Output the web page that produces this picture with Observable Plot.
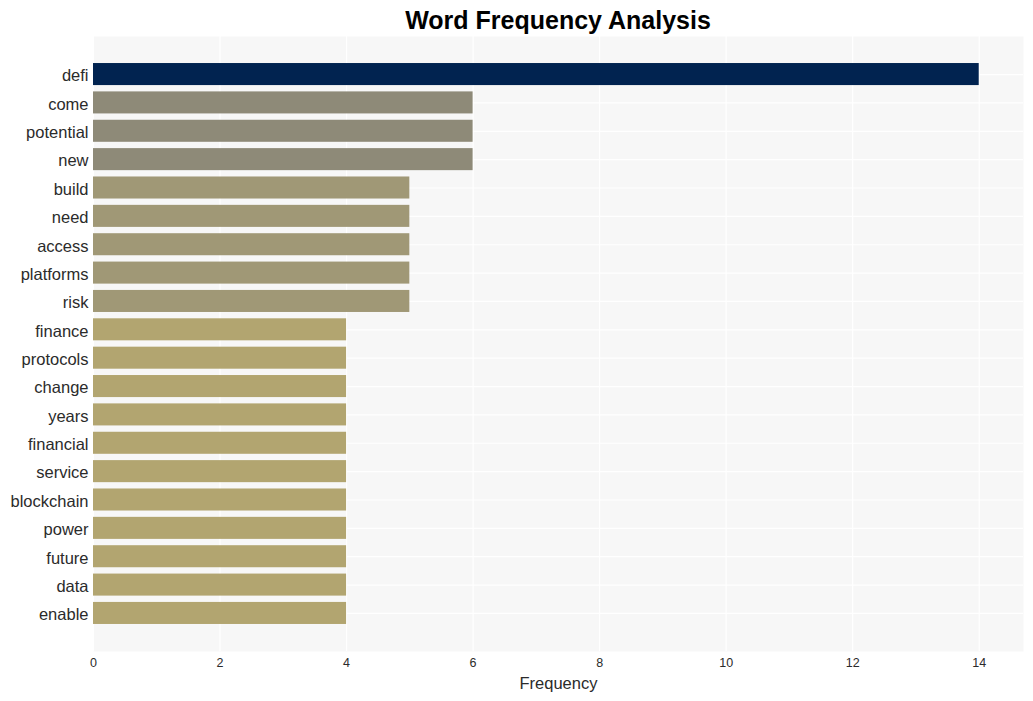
<!DOCTYPE html>
<html>
<head>
<meta charset="utf-8">
<script src="https://cdn.jsdelivr.net/npm/d3@7"></script>
<script src="https://cdn.jsdelivr.net/npm/@observablehq/plot@0.6"></script>
<style>
  body { margin: 0; background: #ffffff; font-family: "Liberation Sans", Arial, sans-serif; }
  #title { height: 36px; line-height: 40px; padding-left: 93px; padding-right: 10px; text-align: center; font-weight: bold; font-size: 25px; color: #000; overflow: visible; white-space: nowrap; }
</style>
</head>
<body>
<div id="title">Word Frequency Analysis</div>
<div id="chart"></div>
<script>
const words = ["defi","come","potential","new","build","need","access","platforms","risk","finance","protocols","change","years","financial","service","blockchain","power","future","data","enable"];
const counts = [14,6,6,6,5,5,5,5,5,4,4,4,4,4,4,4,4,4,4,4];
const xTicks = [0,2,4,6,8,10,12,14];
const colorDomain = [4,5,6,14];
const colorRange = ["#b2a570","#a09876","#8e8a78","#012350"];

const data = words.map((w, i) => ({word: w, freq: counts[i]}));

const chart = Plot.plot({
  width: 1033,
  height: 665,
  marginTop: 0,
  marginBottom: 50,
  marginLeft: 93,
  marginRight: 10,
  style: {fontFamily: "Liberation Sans, Arial, sans-serif", background: "transparent"},
  x: {domain: [0, 14.7], ticks: xTicks},
  y: {domain: words, paddingInner: 0.223, paddingOuter: 0.953, align: 0.5, round: false},
  color: {type: "ordinal", domain: colorDomain, range: colorRange},
  marks: [
    Plot.frame({fill: "#f7f7f7", stroke: null}),
    Plot.gridX(xTicks, {stroke: "#ffffff", strokeOpacity: 1, strokeWidth: 1.2}),
    Plot.gridY({stroke: "#ffffff", strokeOpacity: 1, strokeWidth: 1.2}),
    Plot.barX(data, {x: "freq", y: "word", fill: "freq"}),
    Plot.axisY({tickSize: 0, tickPadding: 5, dy: 1.5, fontSize: 16.5, color: "#2b2b2b", label: null}),
    Plot.axisX(xTicks, {tickSize: 0, tickPadding: 7, fontSize: 12.5, color: "#2b2b2b", label: null}),
    Plot.text(["Frequency"], {frameAnchor: "bottom", dy: 32, fontSize: 16.5, fill: "#2b2b2b", lineAnchor: "middle"})
  ]
});
document.getElementById("chart").appendChild(chart);
</script>
</body>
</html>
